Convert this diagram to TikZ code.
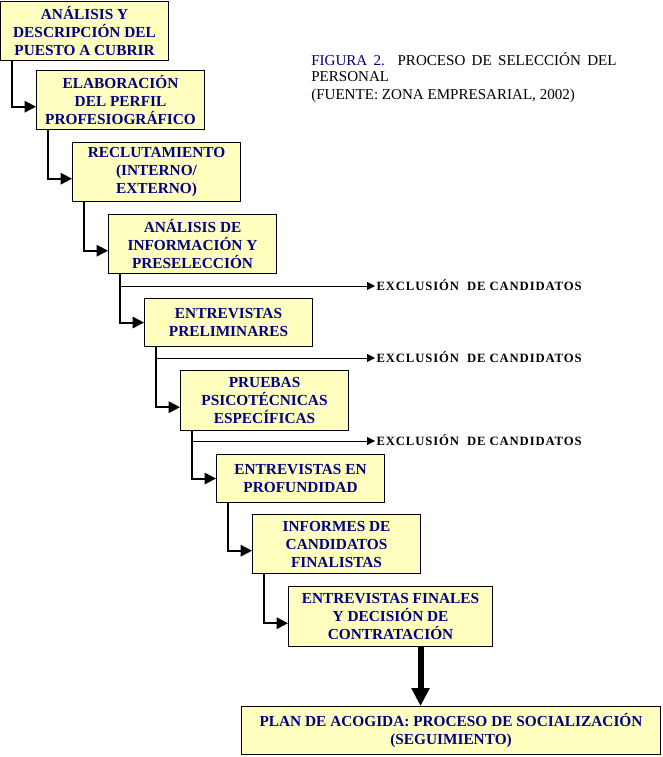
\documentclass[tikz,border=0pt]{standalone}
\usepackage{fontspec}
\setmainfont{Liberation Serif}
\usetikzlibrary{arrows.meta,calc}
\definecolor{boxfill}{RGB}{255,255,192}
\definecolor{boxtext}{RGB}{0,0,128}
\tikzset{
    stage/.style={draw, line width=0.8pt, fill=boxfill, text=boxtext,
                  anchor=north west, inner sep=1pt, align=center,
                  minimum width=126pt, minimum height=44.25pt,
                  font=\fontsize{11.5}{13.5}\selectfont\bfseries},
    short/.style={stage, minimum height=36pt},
    link/.style={-{Triangle[length=8.5pt, width=8.5pt]}, line width=1.5pt},
    cut/.style={-{Triangle[length=6pt, width=6pt]}, line width=0.6pt},
    excl/.style={anchor=west, inner sep=1pt, text height=6.5pt, text depth=0pt,
                 font=\fontsize{9.5}{11}\selectfont\bfseries\addfontfeatures{LetterSpace=7}},
    final/.style={-{Triangle[length=13.5pt, width=13pt]}, line width=4.5pt},
    caption/.style={anchor=north west, inner sep=0pt, text width=229pt,
                    align=justify, font=\fontsize{11.3}{12}\selectfont},
}

\begin{document}
\begin{tikzpicture}[x=0.75pt, y=-0.75pt]
    \useasboundingbox (0,0) rectangle (663,757);

    % stages
    \node[stage] (b1) at (0,1) {AN\'ALISIS Y\\DESCRIPCI\'ON DEL\\PUESTO A CUBRIR};
    \node[stage] (b2) at (36,70) {ELABORACI\'ON\\DEL PERFIL\\PROFESIOGR\'AFICO};
    \node[stage] (b3) at (72,142) {RECLUTAMIENTO\\(INTERNO/\\EXTERNO)};
    \node[stage] (b4) at (108,214) {AN\'ALISIS DE\\INFORMACI\'ON Y\\PRESELECCI\'ON};
    \node[short] (b5) at (144,298) {ENTREVISTAS\\PRELIMINARES};
    \node[stage, minimum height=45pt] (b6) at (180,370) {PRUEBAS\\PSICOT\'ECNICAS\\ESPEC\'IFICAS};
    \node[short] (b7) at (216,454) {ENTREVISTAS EN\\PROFUNDIDAD};
    \node[stage] (b8) at (252,514) {INFORMES DE\\CANDIDATOS\\FINALISTAS};
    \node[stage, minimum width=153pt, minimum height=45pt] (b9) at (288,586)
        {ENTREVISTAS FINALES\\Y DECISI\'ON DE\\CONTRATACI\'ON};
    \node[short, minimum width=314.25pt] (b10) at (241,706)
        {PLAN DE ACOGIDA: PROCESO DE SOCIALIZACI\'ON\\(SEGUIMIENTO)};

    % caption
    \node[caption] (title) at (311,52) {\textcolor{boxtext}{FIGURA 2.} PROCESO DE SELECCI\'ON DEL PERSONAL};
    \node[caption] (source) at (311,89) {(FUENTE: ZONA EMPRESARIAL, 2002)};

    % downward lines
    \coordinate (v1) at ([xshift=9pt]b1.south west);
    \coordinate (v2) at ([xshift=9pt]b2.south west);
    \coordinate (v3) at ([xshift=9pt]b3.south west);
    \coordinate (v4) at ([xshift=9pt]b4.south west);
    \coordinate (v5) at ([xshift=9pt]b5.south west);
    \coordinate (v6) at ([xshift=9pt]b6.south west);
    \coordinate (v7) at ([xshift=9pt]b7.south west);
    \coordinate (v8) at ([xshift=9pt]b8.south west);
    \coordinate (v9) at ([xshift=22.5pt]b9.south);

    \draw[link] (v1) |- ([yshift=-5pt]b2.west);
    \draw[link] (v2) |- ([yshift=-5pt]b3.west);
    \draw[link] (v3) |- ([yshift=-5pt]b4.west);
    \draw[link] (v4) |- (b5.west);
    \draw[link] (v5) |- ([yshift=-5pt]b6.west);
    \draw[link] (v6) |- (b7.west);
    \draw[link] (v7) |- ([yshift=-5pt]b8.west);
    \draw[link] (v8) |- ([yshift=-5pt]b9.west);
    \draw[final] (v9) -- (v9 |- b10.north);

    % exclusions
    \node[excl] (x1) at (375,286) {EXCLUSI\'ON\ \ DE CANDIDATOS};
    \node[excl] (x2) at (375,358) {EXCLUSI\'ON\ \ DE CANDIDATOS};
    \node[excl] (x3) at (375,441) {EXCLUSI\'ON\ \ DE CANDIDATOS};
    \draw[cut] (v4 |- x1.west) -- (x1.west);
    \draw[cut] (v5 |- x2.west) -- (x2.west);
    \draw[cut] (v6 |- x3.west) -- (x3.west);

\end{tikzpicture}
\end{document}
